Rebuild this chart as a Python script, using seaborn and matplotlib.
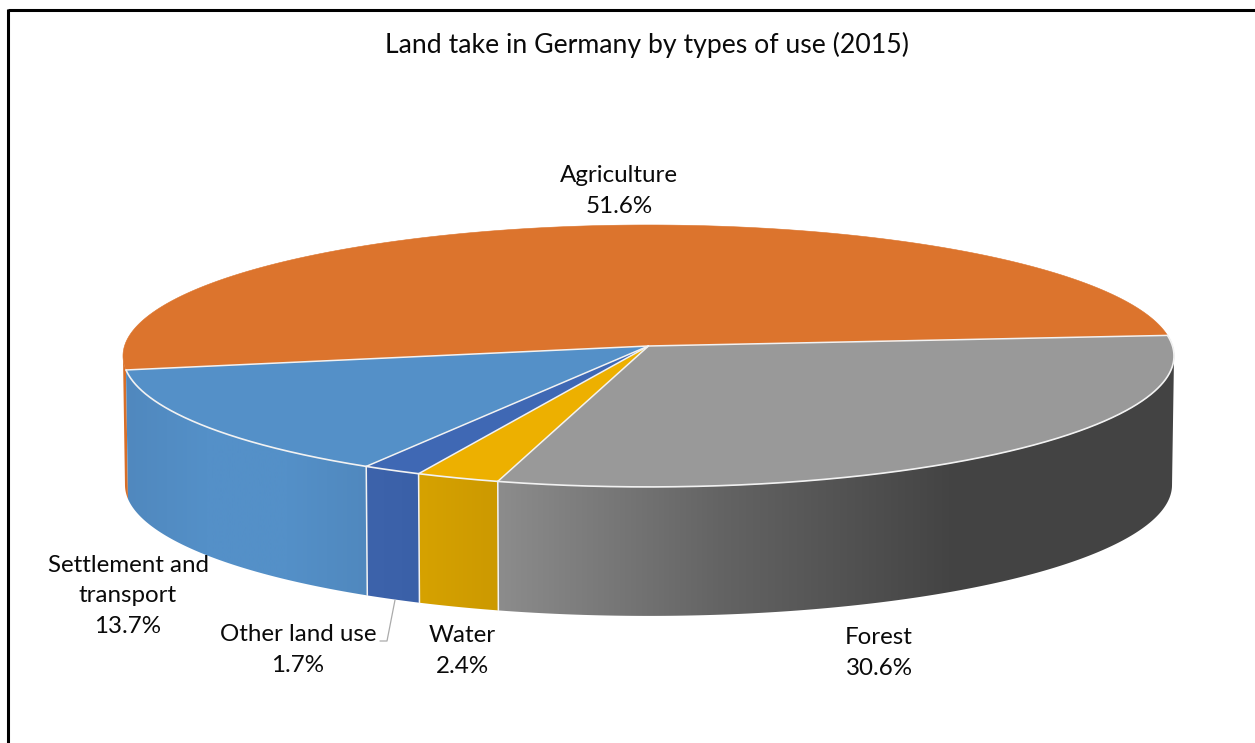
import matplotlib
matplotlib.use("Agg")
import matplotlib.pyplot as plt
from matplotlib.patches import Polygon
import numpy as np
import seaborn as sns

# Slices in drawing order, clockwise from the right hand side of the pie
categories = ['Forest', 'Water', 'Other land use', 'Settlement and\ntransport', 'Agriculture']
shares = [30.6, 2.4, 1.7, 13.7, 51.6]
top_colors = ['#999999', '#EDB000', '#3F68B4', '#5490C8', '#DC742D']
wall_colors = [
    ['#8C8C8C', '#636363', '#444444', '#434343'],
    ['#D6A200', '#CC9900'],
    ['#3D63AB', '#3A60A8'],
    ['#5088BE', '#5490C8', '#5490C8', '#5088BE'],
    ['#D86F28', '#D86F28'],
]
title = 'Land take in Germany by types of use (2015)'

sns.set_theme(style='white')
plt.rcParams['font.family'] = ['Lato', 'DejaVu Sans']

TILT = 0.076
EDGE = '#F2F2F2'


def rim(phi, depth=0.0, shrink=0.0):
    # circle seen in perspective: the far side is squeezed towards the apex
    phi = np.radians(phi)
    persp = 1 + TILT * np.sin(phi)
    x = 648.5 + (524 - shrink) * np.cos(phi) / persp
    y = 346 + depth - 130.2 * np.sin(phi) / persp
    return x, y


fig = plt.figure(figsize=(12.55, 7.43), dpi=100)
ax = fig.add_axes([0, 0, 1, 1])

bounds = 4.7 - np.cumsum([0] + shares) * 3.6
arcs = [np.linspace(bounds[i], bounds[i + 1], 600) for i in range(len(shares))]

# side walls first, agriculture at the back
for i in [4, 0, 1, 2, 3]:
    # only the part of the rim that faces the viewer
    front = arcs[i][np.sin(np.radians(arcs[i])) < -TILT]
    x_top, y_top = rim(front)
    x_low, y_low = rim(front, depth=129, shrink=2)
    outline = np.vstack([np.column_stack([x_top, y_top]),
                         np.column_stack([x_low, y_low])[::-1]])
    ramp = sns.blend_palette(wall_colors[i], n_colors=256)
    x_lo, x_hi = outline[:, 0].min(), outline[:, 0].max()
    img = ax.imshow(np.array(ramp)[np.newaxis, :, :], aspect='auto',
                    extent=(x_lo, x_hi, 700, 200), zorder=2)
    clip = Polygon(outline, closed=True, transform=ax.transData, fc='none', ec='none')
    ax.add_patch(clip)
    img.set_clip_path(clip)

# white seams on the front of the wall
for b in bounds[1:4]:
    x_top, y_top = rim(b)
    x_low, y_low = rim(b, depth=129, shrink=2)
    ax.plot([x_top, x_low], [y_top, y_low], color=EDGE, lw=1.1, zorder=3)

# top face, the back rim stays without a white edge
apex = (648.5, 346)
for i in range(len(shares)):
    x_top, y_top = rim(arcs[i])
    pts = np.vstack([[apex], np.column_stack([x_top, y_top])])
    ax.add_patch(Polygon(pts, closed=True, fc=top_colors[i], ec=top_colors[i], lw=0.4, zorder=4))

for b in bounds[:5]:
    x_top, y_top = rim(b)
    ax.plot([apex[0], x_top], [apex[1], y_top], color=EDGE, lw=1.1, zorder=4.5)
for i in range(4):
    x_top, y_top = rim(arcs[i])
    ax.plot(x_top, y_top, color=EDGE, lw=1.2, zorder=4.5)

# leader of the small slice
ax.plot([395, 387, 380], [600, 641, 641], color='#ABABAB', lw=0.9, zorder=5)

label_xy = [(879, 653), (462, 651), (298, 650), (128, 596), (619, 191)]
for name, share, (tx, ty) in zip(categories, shares, label_xy):
    ax.text(tx, ty, f'{name}\n{share}%', ha='center', va='center', fontsize=17.4,
            color='#0A0A0A', linespacing=1.57, zorder=6)

ax.text(647, 45, title, ha='center', va='center', fontsize=19.15, color='#0A0A0A', zorder=6)

# frame of the original, only the top and left edges are in the crop
ax.plot([7.5, 1255], [10, 10], color='black', lw=2.2, zorder=7, solid_capstyle='butt')
ax.plot([7.5, 7.5], [9, 743], color='black', lw=2.2, zorder=7, solid_capstyle='butt')

ax.set_xlim(0, 1255)
ax.set_ylim(743, 0)
ax.axis('off')
fig.savefig('out.png', dpi=100, facecolor='white')
